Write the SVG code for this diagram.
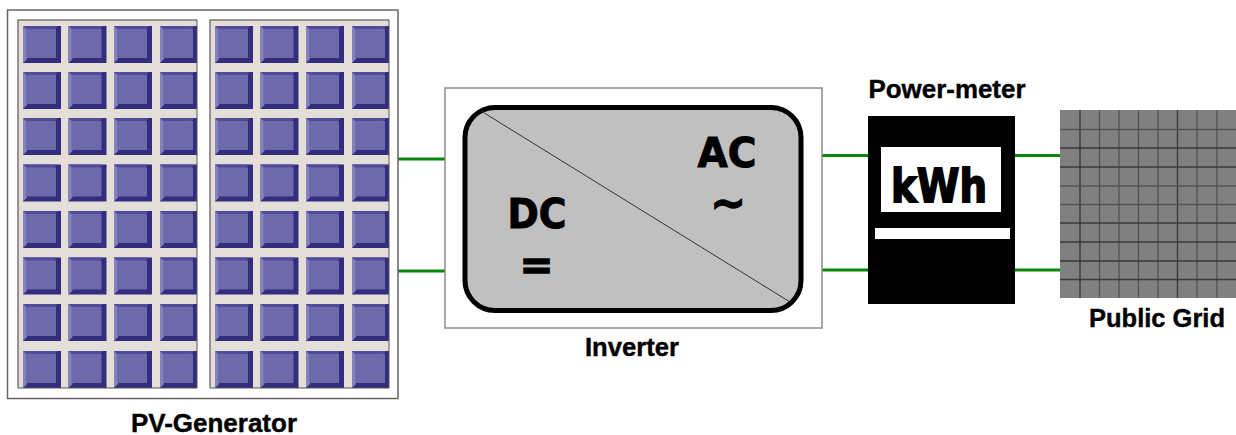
<svg xmlns="http://www.w3.org/2000/svg" xmlns:xlink="http://www.w3.org/1999/xlink" width="1236" height="435" viewBox="0 0 1236 435">
  <style>
    .label { font-family: "Liberation Sans", Arial, sans-serif; font-weight: 700; font-size: 25.5px; fill: #000; stroke: #000; stroke-width: 0.4px; }
    .big { font-family: "DejaVu Sans", Verdana, sans-serif; font-weight: 700; fill: #000; stroke: #000; stroke-width: 1px; }
    .wire { stroke: #0b860b; stroke-width: 3; fill: none; }
    .frame { fill: #fff; stroke: #8c8c8c; stroke-width: 1.5; }
    .gridline { stroke: #3a3a3a; stroke-width: 1.4; }
    .gridline.soft { stroke: #555; }
  </style>
  <defs>
    <!-- one bevelled solar cell, 38 x 37 -->
    <g id="cell">
      <rect x="0" y="0" width="38" height="37" fill="#322d7c"/>
      <path d="M0 0H34L31 3H4V33L0 37Z" fill="#8581bd"/>
      <path d="M0 0H34L31 3H3Z" fill="#514c99"/>
      <rect x="3" y="3" width="30" height="29" fill="#6d69aa"/>
    </g>
    <!-- one row of four cells -->
    <g id="cellrow">
      <use xlink:href="#cell" x="5"/>
      <use xlink:href="#cell" x="50.5"/>
      <use xlink:href="#cell" x="96"/>
      <use xlink:href="#cell" x="142"/>
    </g>
    <!-- panel with eight rows of cells; the last column is cut by the panel edge -->
    <clipPath id="panelclip"><rect x="0" y="0" width="179" height="368"/></clipPath>
    <g id="panel">
      <g clip-path="url(#panelclip)">
        <rect x="0" y="0" width="179" height="368" fill="#e3dfd8"/>
        <use xlink:href="#cellrow" y="6"/>
        <use xlink:href="#cellrow" y="52"/>
        <use xlink:href="#cellrow" y="98"/>
        <use xlink:href="#cellrow" y="144.500"/>
        <use xlink:href="#cellrow" y="191"/>
        <use xlink:href="#cellrow" y="237.500"/>
        <use xlink:href="#cellrow" y="284"/>
        <use xlink:href="#cellrow" y="331"/>
      </g>
      <path d="M0 368V0H179" fill="none" stroke="#777" stroke-width="1.500"/>
      <path d="M0 368H179V0" fill="none" stroke="#555" stroke-width="1"/>
    </g>
  </defs>

  <rect width="1236" height="435" fill="#fff"/>

  <g id="connectors">
    <line class="wire" x1="398" y1="159" x2="446" y2="159"/>
    <line class="wire" x1="398" y1="271" x2="446" y2="271"/>
    <line class="wire" x1="822" y1="155.500" x2="869" y2="155.500"/>
    <line class="wire" x1="822" y1="270" x2="869" y2="270"/>
    <line class="wire" x1="1015" y1="155.500" x2="1062" y2="155.500"/>
    <line class="wire" x1="1015" y1="270" x2="1062" y2="270"/>
  </g>

  <g id="pv-generator">
    <rect x="7.500" y="10" width="390.500" height="388.500" fill="#fff" stroke="#666" stroke-width="1.500"/>
    <use xlink:href="#panel" x="18" y="20"/>
    <use xlink:href="#panel" x="210" y="20"/>
    <text class="label" x="214" y="432" text-anchor="middle" textLength="166" lengthAdjust="spacingAndGlyphs">PV-Generator</text>
  </g>

  <g id="inverter">
    <rect class="frame" x="445" y="88" width="377" height="240"/>
    <rect x="465" y="107.500" width="336" height="203" rx="30" ry="30" fill="#c0c0c0" stroke="#000" stroke-width="5"/>
    <line x1="481" y1="111" x2="790" y2="302" stroke="#333" stroke-width="1"/>
    <text class="big" x="537" y="228" font-size="41" text-anchor="middle" textLength="59" lengthAdjust="spacingAndGlyphs">DC</text>
    <text class="big" x="536.500" y="279" font-size="40" text-anchor="middle" style="stroke-width:1.6px">=</text>
    <text class="big" x="727" y="167" font-size="41" text-anchor="middle" textLength="59" lengthAdjust="spacingAndGlyphs">AC</text>
    <text class="big" x="728" y="218" font-size="42" text-anchor="middle" style="stroke-width:1.6px">~</text>
    <text class="label" x="632" y="356" text-anchor="middle" textLength="94" lengthAdjust="spacingAndGlyphs">Inverter</text>
  </g>

  <g id="power-meter">
    <rect x="868" y="116" width="147" height="188" fill="#000"/>
    <rect x="881" y="147" width="120" height="65" fill="#fff"/>
    <rect x="875" y="228" width="135" height="11" fill="#fff"/>
    <text class="big" x="891" y="202" font-size="46" textLength="96" lengthAdjust="spacingAndGlyphs" style="stroke-width:1.8px">kWh</text>
    <text class="label" x="947" y="98" text-anchor="middle" textLength="157" lengthAdjust="spacingAndGlyphs">Power-meter</text>
  </g>

  <g id="public-grid">
    <rect x="1060" y="110" width="176" height="188" fill="#808080"/>
    <g class="gridlines">
      <line class="gridline" x1="1080" y1="110" x2="1080" y2="298"/>
      <line class="gridline soft" x1="1099.500" y1="110" x2="1099.500" y2="298"/>
      <line class="gridline soft" x1="1119" y1="110" x2="1119" y2="298"/>
      <line class="gridline soft" x1="1138.500" y1="110" x2="1138.500" y2="298"/>
      <line class="gridline soft" x1="1158" y1="110" x2="1158" y2="298"/>
      <line class="gridline" x1="1177.500" y1="110" x2="1177.500" y2="298"/>
      <line class="gridline soft" x1="1197" y1="110" x2="1197" y2="298"/>
      <line class="gridline soft" x1="1217" y1="110" x2="1217" y2="298"/>
      <line class="gridline soft" x1="1060" y1="129.500" x2="1236" y2="129.500"/>
      <line class="gridline" x1="1060" y1="148" x2="1236" y2="148"/>
      <line class="gridline" x1="1060" y1="167" x2="1236" y2="167"/>
      <line class="gridline soft" x1="1060" y1="186" x2="1236" y2="186"/>
      <line class="gridline soft" x1="1060" y1="204.500" x2="1236" y2="204.500"/>
      <line class="gridline" x1="1060" y1="223" x2="1236" y2="223"/>
      <line class="gridline" x1="1060" y1="242" x2="1236" y2="242"/>
      <line class="gridline" x1="1060" y1="261" x2="1236" y2="261"/>
      <line class="gridline" x1="1060" y1="279.500" x2="1236" y2="279.500"/>
    </g>
    <text class="label" x="1157" y="327" text-anchor="middle" textLength="136" lengthAdjust="spacingAndGlyphs">Public Grid</text>
  </g>
</svg>
